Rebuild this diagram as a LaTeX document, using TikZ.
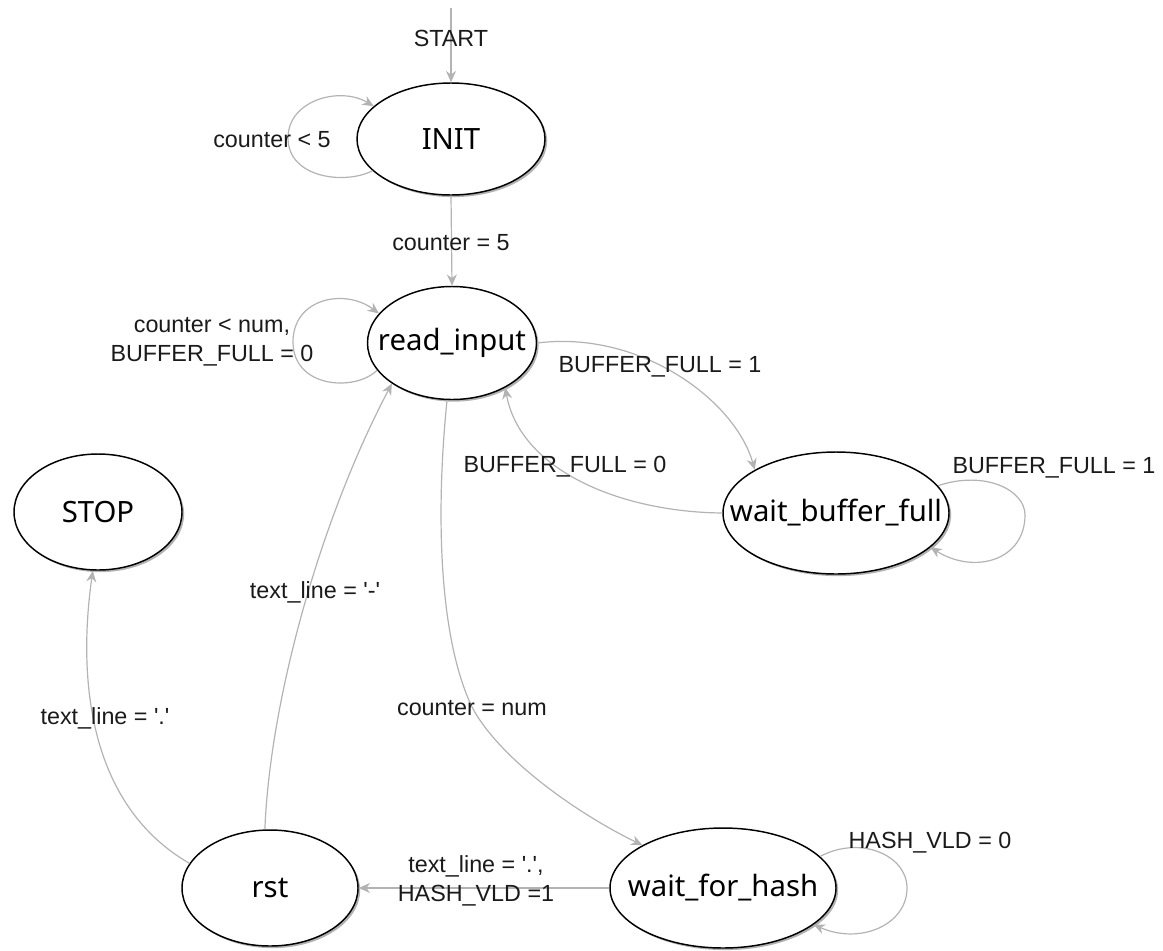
\documentclass[tikz,border=0pt]{standalone}
\usepackage{fontspec}
\newfontfamily\lblfont{Liberation Sans}
\newfontfamily\statefont{Noto Sans}
\usetikzlibrary{arrows.meta,shapes.geometric,shadows}
\definecolor{edgegray}{HTML}{B3B3B3}
\definecolor{labelink}{HTML}{1A1A1A}
\newcommand{\q}{\textquotesingle}
\begin{document}
\begin{tikzpicture}[x=0.75pt,y=-0.75pt,
  state/.style={ellipse, draw=black, line width=1.1pt, fill=white, inner sep=0pt,
    font=\statefont\fontsize{22}{26}\selectfont,
    drop shadow={shadow xshift=1.6pt, shadow yshift=-1.6pt, opacity=0.3, fill=black}},
  edge/.style={draw=edgegray, line width=0.9pt, -{Stealth[length=8.5pt,width=7.5pt]}},
  lbl/.style={font=\lblfont\fontsize{17.5}{22}\selectfont, text=labelink, inner sep=0pt}]
\useasboundingbox (0,0) rectangle (1163,950);

% states
\node[state, minimum width=141pt,    minimum height=84pt]   (init) at (451,139) {\makebox[0pt]{INIT}};
\node[state, minimum width=126.75pt, minimum height=84.75pt] (ri)  at (452,343) {\makebox[0pt]{read\_input}};
\node[state, minimum width=169.5pt,  minimum height=91.5pt] (wbf)  at (836,513) {\makebox[0pt]{wait\_buffer\_full}};
\node[state, minimum width=126pt,    minimum height=87pt]   (stop) at (98,512)  {\makebox[0pt]{STOP}};
\node[state, minimum width=132pt,    minimum height=87pt]   (rst)  at (270,888) {\makebox[0pt]{rst}};
\node[state, minimum width=169.5pt,  minimum height=90pt]   (wfh)  at (723,888) {\makebox[0pt]{wait\_for\_hash}};

% entry
\coordinate (entry) at (451,8);
\draw[edge] (entry) -- (init.north);
\node[lbl] (lstart) at (451,38) {START};

% INIT
\draw[edge] (init.202) .. controls (345,185) and (288,178) .. (288,138)
                       .. controls (288,100) and (340,86) .. (init.157);
\node[lbl] (linitloop) at (272,140) {counter < 5};
\draw[edge] (init.south) -- (ri.north);
\node[lbl] (linit) at (451,243) {counter = 5};

% read_input
\draw[edge] (ri.200) .. controls (355,392) and (293,388) .. (293,342)
                     .. controls (293,298) and (345,288) .. (ri.158);
\node[lbl, align=center] (lriloop) at (212,342) {counter < num,\\BUFFER\_FULL = 0};
\draw[edge] (ri.east) .. controls (640,330) and (735,400) .. (wbf.152);
\node[lbl] (lfull) at (660,367) {BUFFER\_FULL = 1};
\draw[edge] (ri.265) .. controls (435,520) and (440,640) .. (472,707)
                     .. controls (500,760) and (580,815) .. (wfh.152);
\node[lbl] (lnum) at (472,708) {counter = num};

% wait_buffer_full
\draw[edge] (wbf.west) .. controls (620,512) and (520,470) .. (ri.-40);
\node[lbl] (lempty) at (565,467) {BUFFER\_FULL = 0};
\draw[edge] (wbf.15) .. controls (985,470) and (1025,490) .. (1025,515)
                     .. controls (1025,560) and (975,575) .. (wbf.-20);
\node[lbl] (lwbfloop) at (1054,468) {BUFFER\_FULL = 1};

% wait_for_hash
\draw[edge] (wfh.west) -- (rst.east);
\node[lbl, align=center] (lhash) at (476,881) {text\_line = \q.\q,\\HASH\_VLD =1};
\draw[edge] (wfh.18) .. controls (860,835) and (907,855) .. (907,888)
                     .. controls (907,925) and (860,945) .. (wfh.-22);
\node[lbl] (lwfhloop) at (930,843) {HASH\_VLD = 0};

% rst
\draw[edge] (rst.95) .. controls (270,700) and (320,520) .. (ri.214);
\node[lbl] (ldash) at (315,592) {text\_line = \q-\q};
\draw[edge] (rst.163) .. controls (80,800) and (80,660) .. (stop.265);
\node[lbl] (ldot) at (105,718) {text\_line = \q.\q};
\end{tikzpicture}
\end{document}
